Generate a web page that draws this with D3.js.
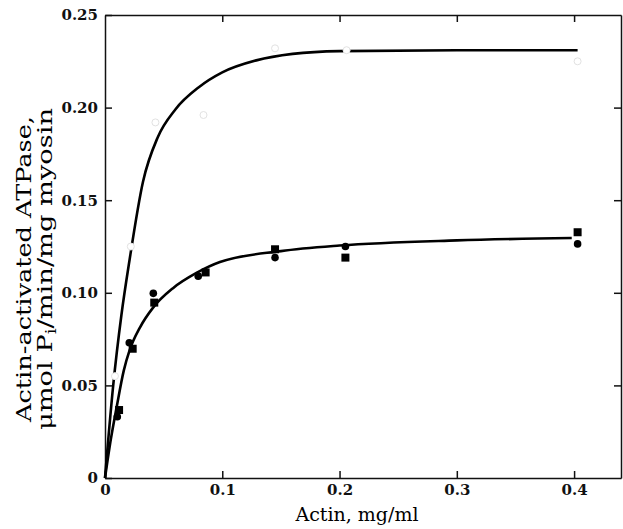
<!DOCTYPE html>
<html>
<head>
<meta charset="utf-8">
<script src="https://cdn.jsdelivr.net/npm/d3@7"></script>
<style>
  body { margin: 0; background: #fff; }
  svg { display: block; }
  .tick text { font-family: "DejaVu Serif", serif; font-weight: bold; font-size: 15px; fill: #111; }
  .axis path, .axis line { stroke: #111; stroke-width: 1.5; }
</style>
</head>
<body>
<svg width="623" height="529"></svg>
<script>
// data
const circleX = [0.0105, 0.0207, 0.0412, 0.0795, 0.145, 0.205, 0.403];
const circleY = [0.0331, 0.0730, 0.0997, 0.1090, 0.1190, 0.1250, 0.1264];
const squareX = [0.0120, 0.0236, 0.0420, 0.0858, 0.145, 0.205, 0.403];
const squareY = [0.0367, 0.0698, 0.0947, 0.1110, 0.1235, 0.1190, 0.1327];
const openX = [0.0085, 0.022, 0.043, 0.084, 0.145, 0.206, 0.403];
const openY = [0.055, 0.125, 0.192, 0.196, 0.232, 0.231, 0.225];

const upperCurveX = [0, 0.007, 0.014, 0.021, 0.0324, 0.045, 0.06, 0.08, 0.1, 0.129, 0.16, 0.2, 0.3, 0.403];
const upperCurveY = [0, 0.050, 0.088, 0.118, 0.160, 0.184, 0.199, 0.211, 0.219, 0.2255, 0.229, 0.2305, 0.231, 0.231];
const lowerCurveX = [0, 0.005, 0.01, 0.016, 0.021, 0.03, 0.041, 0.058, 0.078, 0.098, 0.15, 0.2, 0.3, 0.398];
const lowerCurveY = [0, 0.021, 0.0385, 0.058, 0.069, 0.0815, 0.092, 0.1025, 0.1107, 0.1166, 0.1225, 0.1255, 0.1283, 0.1296];

const xTicks = [0, 0.1, 0.2, 0.3, 0.4];
const yTicks = [0, 0.05, 0.10, 0.15, 0.20, 0.25];

const svg = d3.select('svg');
const mLeft = 105, mRight = 621, mTop = 15, mBottom = 478;

const x = d3.scaleLinear().domain([0, 0.44]).range([mLeft, mRight]);
const y = d3.scaleLinear().domain([0, 0.25]).range([mBottom, mTop]);

const fmtX = d => d === 0 ? '0' : d3.format('.1f')(d);
const fmtY = d => d === 0 ? '0' : d3.format('.2f')(d);

// axes, ticks pointing inward
svg.append('g')
  .attr('class', 'axis')
  .attr('transform', `translate(0,${mBottom})`)
  .call(d3.axisBottom(x).tickValues(xTicks).tickSize(-7).tickPadding(3).tickSizeOuter(0).tickFormat(fmtX))
  .selectAll('.tick text').attr('dy', '0.9em');

svg.append('g')
  .attr('class', 'axis')
  .attr('transform', `translate(${mLeft},0)`)
  .call(d3.axisLeft(y).tickValues(yTicks).tickSize(-7).tickPadding(7).tickSizeOuter(0).tickFormat(fmtY));

svg.append('g')
  .attr('class', 'axis')
  .attr('transform', `translate(0,${mTop})`)
  .call(d3.axisTop(x).tickValues(xTicks.slice(1)).tickSize(-7).tickSizeOuter(0).tickFormat(''));

svg.append('g')
  .attr('class', 'axis')
  .attr('transform', `translate(${mRight},0)`)
  .call(d3.axisRight(y).tickValues(yTicks.slice(1, 5)).tickSize(-7).tickSizeOuter(0).tickFormat(''));

// curves
const line = d3.line().x(d => x(d[0])).y(d => y(d[1])).curve(d3.curveMonotoneX);
const plot = svg.append('g');

plot.append('path')
  .datum(d3.zip(upperCurveX, upperCurveY))
  .attr('d', line)
  .attr('fill', 'none').attr('stroke', '#000').attr('stroke-width', 2.6);

plot.append('path')
  .datum(d3.zip(lowerCurveX, lowerCurveY))
  .attr('d', line)
  .attr('fill', 'none').attr('stroke', '#000').attr('stroke-width', 2.6);

// faint open circles (cut gaps into the upper curve)
plot.selectAll('circle.open')
  .data(d3.zip(openX, openY))
  .join('circle')
  .attr('class', 'open')
  .attr('cx', d => x(d[0])).attr('cy', d => y(d[1]))
  .attr('r', 3.5)
  .attr('fill', '#fff').attr('stroke', '#e2e2e2').attr('stroke-width', 1);

plot.selectAll('rect.sq')
  .data(d3.zip(squareX, squareY))
  .join('rect')
  .attr('class', 'sq')
  .attr('x', d => x(d[0]) - 4).attr('y', d => y(d[1]) - 4)
  .attr('width', 8).attr('height', 8)
  .attr('fill', '#000');

plot.selectAll('circle.fill')
  .data(d3.zip(circleX, circleY))
  .join('circle')
  .attr('class', 'fill')
  .attr('cx', d => x(d[0])).attr('cy', d => y(d[1]))
  .attr('r', 3.8)
  .attr('fill', '#000');

// axis titles
svg.append('text')
  .attr('x', 357).attr('y', 521)
  .attr('text-anchor', 'middle')
  .style('font-family', '"DejaVu Serif", serif').style('font-size', '19px')
  .text('Actin, mg/ml');

const yt = svg.append('text')
  .attr('transform', 'translate(0,269) rotate(-90)')
  .attr('text-anchor', 'middle')
  .style('font-family', '"DejaVu Serif", serif').style('font-size', '21px');
yt.append('tspan').attr('x', 0).attr('y', 31)
  .attr('textLength', 306).attr('lengthAdjust', 'spacingAndGlyphs')
  .text('Actin-activated ATPase,');
const l2 = yt.append('tspan').attr('x', 0).attr('y', 52)
  .attr('textLength', 322).attr('lengthAdjust', 'spacingAndGlyphs');
l2.append('tspan').text('\u03bcmol P');
l2.append('tspan').attr('dy', 4).style('font-size', '14px').text('i');
l2.append('tspan').attr('dy', -4).text('/min/mg myosin');
</script>
</body>
</html>
